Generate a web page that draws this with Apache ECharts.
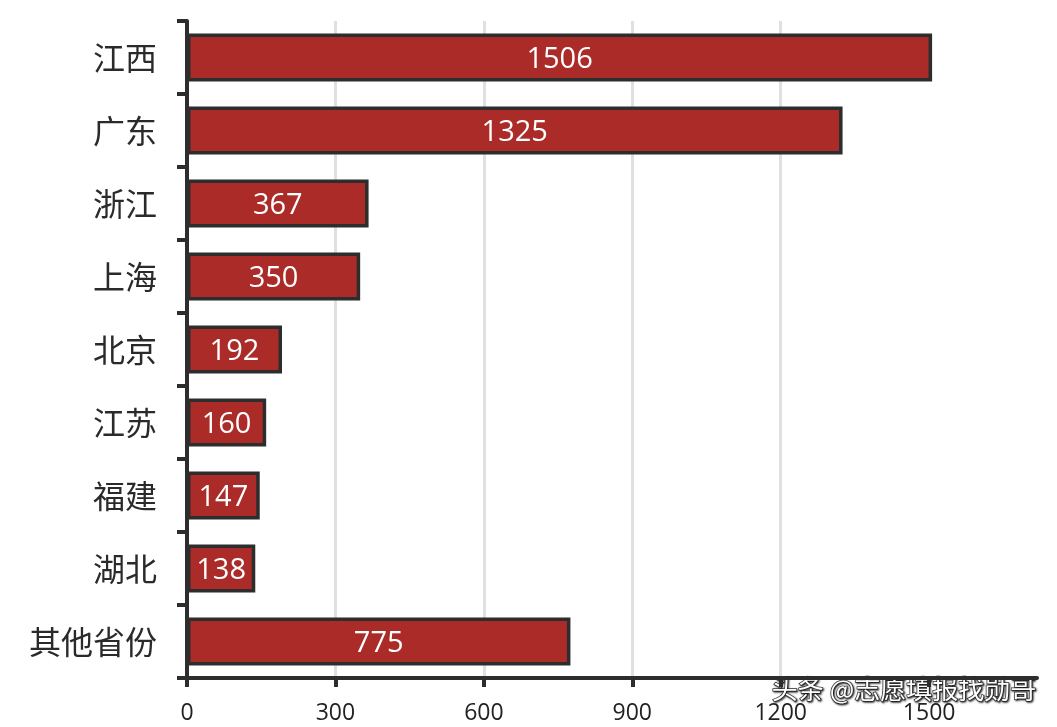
<!DOCTYPE html>
<html><head><meta charset="utf-8">
<script src="https://cdn.jsdelivr.net/npm/echarts@6/dist/echarts.min.js"></script>
<style>html,body{margin:0;padding:0;background:#fff}#c{width:1057px;height:727px}</style>
</head><body><div id="c"></div>
<script>
const categories = ['江西','广东','浙江','上海','北京','江苏','福建','湖北','其他省份'];
const values = [1506,1325,367,350,192,160,147,138,775];
const xTicks = [0,300,600,900,1200,1500];
const watermark = '头条 @志愿填报找勋哥';

const chart = echarts.init(document.getElementById('c'), null, {renderer:'canvas'});
chart.setOption({
  animation:false,
  backgroundColor:'#fff',
  grid:{left:187,right:20,top:21,bottom:49,containLabel:false},
  xAxis:{
    type:'value', min:0, max:1718,
    axisLine:{show:true,lineStyle:{color:'#2d2d2d',width:4}},
    axisTick:{show:true,length:9,lineStyle:{color:'#2d2d2d',width:4},customValues:xTicks},
    axisLabel:{customValues:xTicks,color:'#222',fontSize:23,fontFamily:'Open Sans',margin:24,
      formatter:function(v){return String(v);}},
    splitLine:{show:true,showMaxLine:false,lineStyle:{color:'#e0e0e0',width:3}}
  },
  yAxis:{
    type:'category', data:categories, inverse:true,
    axisLine:{show:true,lineStyle:{color:'#2d2d2d',width:4}},
    axisTick:{show:true,length:10,lineStyle:{color:'#2d2d2d',width:4}},
    axisLabel:{color:'#2a2a2a',fontSize:32,fontFamily:'Noto Sans CJK SC',margin:30}
  },
  series:[{
    type:'bar', data:values, barWidth:'66%',
    itemStyle:{color:'#ab2b29',borderColor:'#2d2d2d',borderWidth:3.5},
    label:{show:true,position:'inside',color:'#fff',fontSize:29,fontFamily:'Open Sans',offset:[0,2]}
  }],
  graphic:[{
    type:'text', right:20, top:675,
    style:{text:watermark,fill:'#fff',fontSize:26,fontFamily:'Noto Sans CJK SC',
      stroke:'#333',lineWidth:1.5,textShadowColor:'rgba(0,0,0,0.7)',textShadowBlur:2,textShadowOffsetX:1,textShadowOffsetY:1}
  }]
});
</script></body></html>
